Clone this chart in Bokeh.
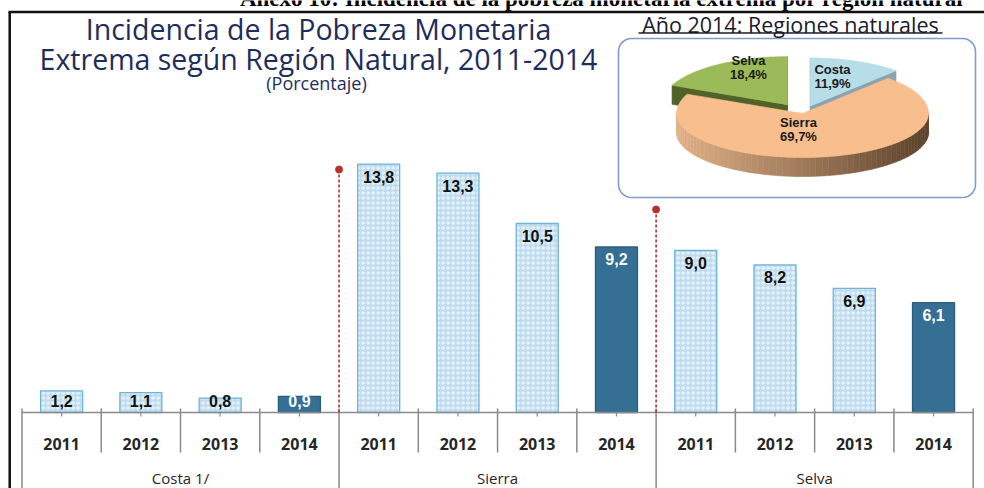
import numpy as np
from bokeh.plotting import figure
from bokeh.models import Range1d, ColumnDataSource, LinearScale
from bokeh.embed import file_html
from bokeh.resources import INLINE
from bokeh.core.properties import value

# ---------------- data ----------------
groups = ["Costa 1/", "Sierra", "Selva"]
years = ["2011", "2012", "2013", "2014"]
costa = [1.2, 1.1, 0.8, 0.9]
sierra = [13.8, 13.3, 10.5, 9.2]
selva = [9.0, 8.2, 6.9, 6.1]
highlight_year = "2014"

pie_regions = ["Costa", "Sierra", "Selva"]
pie_shares = [11.9, 69.7, 18.4]

page_title = "Anexo 10: Incidencia de la pobreza monetaria extrema por región natural"
title_lines = ["Incidencia de la Pobreza Monetaria",
               "Extrema según Región Natural, 2011-2014"]
subtitle = "(Porcentaje)"
pie_title = "Año 2014: Regiones naturales"

# ---------------- layout / style ----------------
W, H = 984, 488
PX_PER_UNIT = 18.0          # pixels per percentage point
BASE = 412.0                # pixel row (from top) of the value axis zero
X_LEFT_PAD, X_RIGHT_PAD = 0.271, 0.143   # category slots of padding
TITLE_FONT = "Open Sans"
NUM_FONT = "Liberation Sans"
NAVY = "#1F2D5C"
LIGHT_FILL, LIGHT_LINE = "#C0DDF0", "#6FB3D6"
DARK_FILL, DARK_LINE = "#356F94", "#2C5C7C"
GRID_GRAY = "#8A8A8A"
RED = "#B8312F"

def fmt(v):
    return f"{v:.1f}".replace(".", ",")

cat_year = [y for g in groups for y in years]
vals = np.array(costa + sierra + selva, dtype=float)
is_hi = [y == highlight_year for y in cat_year]
n = len(cat_year)
ny = len(years)
xc = np.arange(n) + 0.5      # slot centres of the categories

x_range = Range1d(-X_LEFT_PAD, n + X_RIGHT_PAD)
y_range = Range1d(-(H - BASE) / PX_PER_UNIT, BASE / PX_PER_UNIT)

p = figure(width=W, height=H, x_range=x_range, y_range=y_range,
           output_backend="svg", toolbar_location=None,
           x_axis_location=None, y_axis_location=None,
           min_border=0, min_border_left=0, min_border_right=0,
           min_border_top=0, min_border_bottom=0)
p.title.visible = False
p.grid.visible = False
p.outline_line_color = None
p.background_fill_color = "white"
p.border_fill_color = "white"
p.extra_x_ranges = {"px": Range1d(0, W)}
p.extra_y_ranges = {"px": Range1d(H, 0)}
p.extra_x_scales = {"px": LinearScale()}
p.extra_y_scales = {"px": LinearScale()}

# ---------------- page title (cut by the top edge, as in the source) ----------------
p.text(x=[601], y=[-2], text=[page_title], x_range_name="px", y_range_name="px",
       text_font=value("Liberation Serif"), text_font_style="bold",
       text_font_size="23px", text_color="black",
       text_align="center", text_baseline="middle")

# ---------------- frame border ----------------
p.segment(x0=[8, 9.2], y0=[11.5, 11.5], x1=[W, 9.2], y1=[11.5, H],
          x_range_name="px", y_range_name="px", line_color="#111111", line_width=2.5)

# ---------------- titles ----------------
p.text(x=[318, 318], y=[28, 58], text=title_lines, x_range_name="px", y_range_name="px",
       text_font=value(TITLE_FONT), text_font_size="28.5px", text_color=NAVY,
       text_align="center", text_baseline="middle")
p.text(x=[316], y=[82], text=[subtitle], x_range_name="px", y_range_name="px",
       text_font=value(TITLE_FONT), text_font_size="18px", text_color=NAVY,
       text_align="center", text_baseline="middle")

# ---------------- bars ----------------
light = [i for i in range(n) if not is_hi[i]]
dark = [i for i in range(n) if is_hi[i]]
src_l = ColumnDataSource(dict(x=xc[light], top=vals[light]))
src_d = ColumnDataSource(dict(x=xc[dark], top=vals[dark]))
p.vbar(x="x", top="top", bottom=0, width=0.53, source=src_l,
       fill_color=LIGHT_FILL, line_color=LIGHT_LINE, line_width=1.3,
       hatch_pattern="ring", hatch_color="white", hatch_scale=5,
       hatch_weight=1, hatch_alpha=0.75)
p.vbar(x="x", top="top", bottom=0, width=0.53, source=src_d,
       fill_color=DARK_FILL, line_color=DARK_LINE, line_width=1.3)

# value labels (inside end of bar, kept above the axis for short bars)
label_y = np.maximum(vals - 12.5 / PX_PER_UNIT, 11.5 / PX_PER_UNIT)
p.text(x=xc, y=label_y, text=[fmt(v) for v in vals],
       text_color=["white" if h else "#111111" for h in is_hi],
       text_font=value(NUM_FONT), text_font_style="bold", text_font_size="16px",
       text_align="center", text_baseline="middle")

# ---------------- category axis ----------------
bounds = np.arange(n + 1)
p.segment(x0=[0], x1=[n], y0=[0], y1=[0], line_color=GRID_GRAY, line_width=1.5)
short = [int(b) for b in bounds if b % ny != 0]
long_ = [int(b) for b in bounds if b % ny == 0]
p.segment(x0=short, x1=short, y0=[BASE - 4] * len(short), y1=[BASE + 40] * len(short),
          y_range_name="px", line_color=GRID_GRAY, line_width=1.5)
p.segment(x0=long_, x1=long_, y0=[BASE - 4] * len(long_), y1=[H] * len(long_),
          y_range_name="px", line_color=GRID_GRAY, line_width=1.5)
p.segment(x0=xc, x1=xc, y0=[BASE] * n, y1=[BASE + 4] * n,
          y_range_name="px", line_color=GRID_GRAY, line_width=1.2)
p.text(x=xc, y=[BASE + 31] * n, text=cat_year, y_range_name="px",
       text_font=value(TITLE_FONT), text_font_style="bold", text_font_size="16px",
       text_color="#262626", text_align="center", text_baseline="middle")
group_centers = [gi * ny + ny / 2 for gi in range(len(groups))]
p.text(x=group_centers, y=[BASE + 65] * len(groups), text=groups, y_range_name="px",
       text_font=value(TITLE_FONT), text_font_size="15px",
       text_color="#262626", text_align="center", text_baseline="middle")

# red dashed separators between regions
sep_x = [ny, 2 * ny]
sep_top = [169, 209]
p.segment(x0=sep_x, x1=sep_x, y0=sep_top, y1=[BASE] * 2, y_range_name="px",
          line_color=RED, line_width=1.6, line_dash="3 2")
p.scatter(x=sep_x, y=sep_top, y_range_name="px", size=7, color=RED)

# ---------------- pie inset ----------------
def rounded_rect(x0, y0, x1, y1, r, k=8):
    xs, ys = [], []
    corners = [(x1 - r, y0 + r, -90, 0), (x1 - r, y1 - r, 0, 90),
               (x0 + r, y1 - r, 90, 180), (x0 + r, y0 + r, 180, 270)]
    for cx, cy, a0, a1 in corners:
        for t in np.linspace(np.radians(a0), np.radians(a1), k):
            xs.append(float(cx + r * np.cos(t)))
            ys.append(float(cy + r * np.sin(t)))
    return xs, ys

bx, by = rounded_rect(618, 38, 975, 197, 13)
p.patch(bx, by, x_range_name="px", y_range_name="px", fill_color="white",
        line_color="#7E9BCB", line_width=1.6)

p.text(x=[790], y=[23.5], text=[pie_title], x_range_name="px", y_range_name="px",
       text_font=value(TITLE_FONT), text_font_size="21.5px", text_color="#1A1A2E",
       text_align="center", text_baseline="middle")
p.segment(x0=[638], x1=[942], y0=[32.5], y1=[32.5], x_range_name="px",
          y_range_name="px", line_color="#1A1A2E", line_width=1.3)

# 3-D pie: back half drawn slightly taller to mimic the perspective of the source
PCX, PCY, PA, PD = 802.0, 113.0, 126.0, 19.0
PB_BACK, PB_FRONT = 48.0, 44.0
explode = {"Costa": 0.17, "Sierra": 0.0, "Selva": 0.22}
top_col = {"Costa": "#B7DEE8", "Sierra": "#F9BE8E", "Selva": "#9BBB59"}
side_col = {"Costa": "#8AA3AE", "Sierra": "#B0855F", "Selva": "#4F6228"}

shares = np.array(pie_shares, dtype=float)
ends = np.cumsum(shares) / shares.sum() * 360.0
starts = ends - shares / shares.sum() * 360.0

def pt(theta, ox, oy, dz=0.0):
    t = np.radians(theta)
    c = np.cos(t)
    b = PB_BACK if c > 0 else PB_FRONT
    return float(PCX + ox + PA * np.sin(t)), float(PCY + oy - b * c + dz)

def lerp_col(u):
    c0, c1 = np.array([226, 178, 136]), np.array([92, 66, 44])
    c = (c0 + (c1 - c0) * u).astype(int)
    return "#%02x%02x%02x" % tuple(c)

back_xs, back_ys, back_c = [], [], []
wall_xs, wall_ys, wall_c = [], [], []
top_xs, top_ys, top_c = [], [], []
for reg, s, e in zip(pie_regions, starts, ends):
    mid = np.radians((s + e) / 2)
    ox = float(explode[reg] * PA * np.sin(mid))
    oy = float(-explode[reg] * PB_BACK * np.cos(mid))
    ax, ay = PCX + ox, PCY + oy
    if explode[reg] > 0:
        for th in (s, e):
            x1, y1 = pt(th, ox, oy)
            back_xs.append([ax, x1, x1, ax])
            back_ys.append([ay, y1, y1 + PD, ay + PD])
            back_c.append(side_col[reg])
    segs = []
    lo, hi = max(s, 90.0), min(e, 270.0)
    if lo < hi:
        segs.append((lo, hi))
    for (a0, a1) in segs:
        steps = np.linspace(a0, a1, max(2, int((a1 - a0) / 3) + 1))
        for t0, t1 in zip(steps[:-1], steps[1:]):
            x0, y0 = pt(t0, ox, oy)
            x1, y1 = pt(t1, ox, oy)
            wall_xs.append([x0, x1, x1, x0])
            wall_ys.append([y0, y1, y1 + PD, y0 + PD])
            if reg == "Sierra":
                u = ((x0 + x1) / 2 - (PCX - PA)) / (2 * PA)
                wall_c.append(lerp_col(float(np.clip(u, 0, 1))))
            else:
                wall_c.append(side_col[reg])
    arc = np.linspace(s, e, int(e - s) + 2)
    top_xs.append([ax] + [pt(t, ox, oy)[0] for t in arc])
    top_ys.append([ay] + [pt(t, ox, oy)[1] for t in arc])
    top_c.append(top_col[reg])

all_xs = back_xs + wall_xs + top_xs
all_ys = back_ys + wall_ys + top_ys
all_c = back_c + wall_c + top_c
p.patches(xs=all_xs, ys=all_ys, x_range_name="px", y_range_name="px",
          fill_color=all_c, line_color=all_c, line_width=0.6)

lab_pos = {"Selva": (748, 60), "Costa": (832, 69), "Sierra": (798, 122)}
lx, ly, lt = [], [], []
for reg, sh in zip(pie_regions, pie_shares):
    x0, y0 = lab_pos[reg]
    lx += [x0, x0]
    ly += [y0, y0 + 14]
    lt += [reg, fmt(sh) + "%"]
p.text(x=lx, y=ly, text=lt, x_range_name="px", y_range_name="px",
       text_font=value(NUM_FONT), text_font_style="bold", text_font_size="13px",
       text_color="#1A1A1A", text_align="center", text_baseline="middle")

open("out.html", "w").write(file_html(p, INLINE))
